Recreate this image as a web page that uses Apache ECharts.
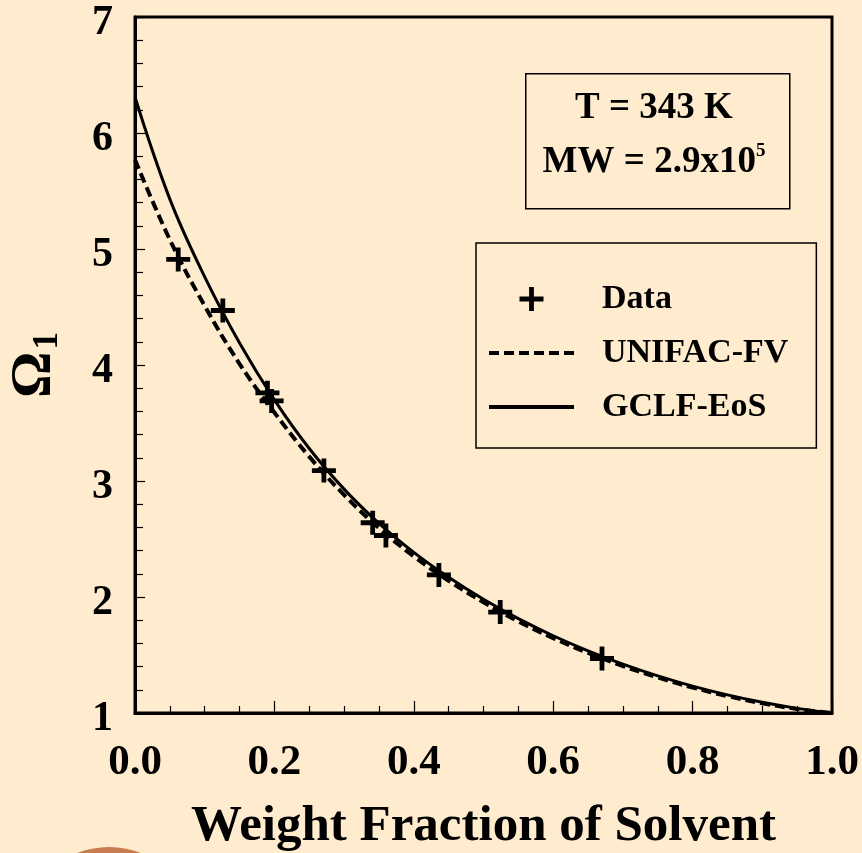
<!DOCTYPE html>
<html>
<head>
<meta charset="utf-8">
<script src="https://cdn.jsdelivr.net/npm/echarts@6/dist/echarts.min.js"></script>
<style>
  html, body { margin: 0; padding: 0; background: #FFECCE; }
  #chart { width: 862px; height: 853px; }
</style>
</head>
<body>
<div id="chart"></div>
<script>
// Solvent activity coefficient Omega_1 vs. weight fraction of solvent
const FONT = "'Liberation Serif', 'Times New Roman', serif";

// Experimental points: [weight fraction, Omega_1]
const dataX = [0.062, 0.126, 0.190, 0.196, 0.271, 0.341, 0.360, 0.436, 0.524, 0.670];
const dataY = [4.91, 4.47, 3.76, 3.69, 3.09, 2.64, 2.53, 2.19, 1.87, 1.47];

// Model curves sampled along the weight fraction
const curveX   = [0, 0.05, 0.10, 0.15, 0.20, 0.25, 0.30, 0.35, 0.40, 0.45, 0.50,
                  0.55, 0.60, 0.65, 0.70, 0.75, 0.80, 0.85, 0.90, 0.95, 1.00];
const unifacFV = [5.77, 5.08, 4.51, 4.01, 3.59, 3.21, 2.88, 2.595, 2.35, 2.14, 1.955,
                  1.79, 1.646, 1.518, 1.405, 1.306, 1.22, 1.146, 1.083, 1.035, 1.0];
const gclfEoS  = [6.31, 5.43, 4.76, 4.19, 3.70, 3.28, 2.93, 2.635, 2.385, 2.17, 1.98,
                  1.813, 1.666, 1.536, 1.421, 1.32, 1.232, 1.156, 1.092, 1.04, 1.0];

// Axis ranges and tick steps
const xRange = [0, 1];
const xStep = 0.2;
const yRange = [1, 7];
const yStep = 1;

const seriesNames = ['Data', 'UNIFAC-FV', 'GCLF-EoS'];
const infoLines = ['T = 343 K', 'MW = 2.9x10', '5'];

const zip = (xs, ys) => xs.map((x, i) => [x, ys[i]]);
const PLUS = 'path://M4,0H6V4H10V6H6V10H4V6H0V4H4Z';
const DASH = [10, 5];

const chart = echarts.init(document.getElementById('chart'));
chart.setOption({
  backgroundColor: '#FFECCE',
  animation: false,
  textStyle: { fontFamily: FONT, fontWeight: 'bold', color: '#000' },
  grid: {
    left: 135, right: 30, top: 17, bottom: 140,
    outerBoundsMode: 'none', containLabel: false,
    show: true, borderColor: '#000', borderWidth: 3, backgroundColor: 'transparent'
  },
  xAxis: {
    type: 'value', min: xRange[0], max: xRange[1], interval: xStep,
    axisLine: { show: true, onZero: false, lineStyle: { color: '#000', width: 3 } },
    axisTick: { show: true, inside: true, length: 12, lineStyle: { color: '#000', width: 1.2 } },
    minorTick: { show: true, splitNumber: 4, length: 7, lineStyle: { color: '#000', width: 1.2 } },
    splitLine: { show: false },
    axisLabel: {
      margin: 28, fontSize: 43, fontFamily: FONT, fontWeight: 'bold', color: '#000',
      formatter: v => v.toFixed(1)
    },
    name: 'Weight Fraction of Solvent',
    nameLocation: 'middle', nameGap: 88,
    nameTextStyle: { fontSize: 51, fontFamily: FONT, fontWeight: 'bold', color: '#000' }
  },
  yAxis: {
    type: 'value', min: yRange[0], max: yRange[1], interval: yStep,
    axisLine: { show: true, onZero: false, lineStyle: { color: '#000', width: 3 } },
    axisTick: { show: true, inside: true, length: 10, lineStyle: { color: '#000', width: 1.2 } },
    minorTick: { show: true, splitNumber: 5, length: 8, lineStyle: { color: '#000', width: 1.2 } },
    splitLine: { show: false },
    axisLabel: {
      margin: 22, fontSize: 42, fontFamily: FONT, fontWeight: 'bold', color: '#000',
      verticalAlign: 'top', lineHeight: 12
    },
    name: '{o|Ω}{s|1}',
    nameLocation: 'middle', nameGap: 70, nameRotate: 90,
    nameTextStyle: {
      rich: {
        o: { fontSize: 58, fontFamily: FONT, fontWeight: 'bold', color: '#000', lineHeight: 60 },
        s: { fontSize: 35, fontFamily: FONT, fontWeight: 'bold', color: '#000', verticalAlign: 'bottom', lineHeight: 34, padding: [0, 0, 0, 2] }
      }
    }
  },
  legend: {
    orient: 'vertical', left: 476, top: 243,
    data: [
      { name: seriesNames[0] },
      { name: seriesNames[1], lineStyle: { width: 4, type: DASH, color: '#000' } },
      { name: seriesNames[2], lineStyle: { width: 4, type: 'solid', color: '#000' } }
    ],
    itemWidth: 85, itemHeight: 24, itemGap: 20,
    padding: [39, 28, 24, 11],
    borderColor: '#000', borderWidth: 1.5,
    textStyle: { fontSize: 34, fontFamily: FONT, fontWeight: 'bold', color: '#000', padding: [0, 0, 0, 23] }
  },
  graphic: [
    {
      type: 'rect', left: 525, top: 73, silent: true,
      shape: { width: 264, height: 135 },
      style: { fill: 'transparent', stroke: '#000', lineWidth: 1.5 }
    },
    {
      type: 'text', x: 654, y: 108, silent: true,
      style: { text: infoLines[0], font: `bold 37px ${FONT}`, fill: '#000', align: 'center', verticalAlign: 'middle' }
    },
    {
      type: 'text', x: 654, y: 162, silent: true,
      style: {
        text: `{m|${infoLines[1]}}{p|${infoLines[2]}}`, align: 'center', verticalAlign: 'middle',
        rich: {
          m: { font: `bold 37px ${FONT}`, fill: '#000', lineHeight: 40 },
          p: { font: `bold 19px ${FONT}`, fill: '#000', verticalAlign: 'top', lineHeight: 40 }
        }
      }
    },
    {
      type: 'circle', silent: true, z: -1,
      shape: { cx: 109, cy: 935, r: 88 },
      style: { fill: '#C97C4F' }
    }
  ],
  series: [
    {
      name: seriesNames[0], type: 'scatter',
      data: zip(dataX, dataY),
      symbol: PLUS, symbolSize: 24,
      itemStyle: { color: '#000', opacity: 1 }, z: 5
    },
    {
      name: seriesNames[1], type: 'line',
      data: zip(curveX, unifacFV),
      smooth: 0.4, symbol: 'none',
      itemStyle: { color: 'rgba(0,0,0,0)' },
      lineStyle: { color: '#000', width: 4, type: DASH }
    },
    {
      name: seriesNames[2], type: 'line',
      data: zip(curveX, gclfEoS),
      smooth: 0.4, symbol: 'none',
      itemStyle: { color: 'rgba(0,0,0,0)' },
      lineStyle: { color: '#000', width: 3, type: 'solid' }
    }
  ]
});
</script>
</body>
</html>
